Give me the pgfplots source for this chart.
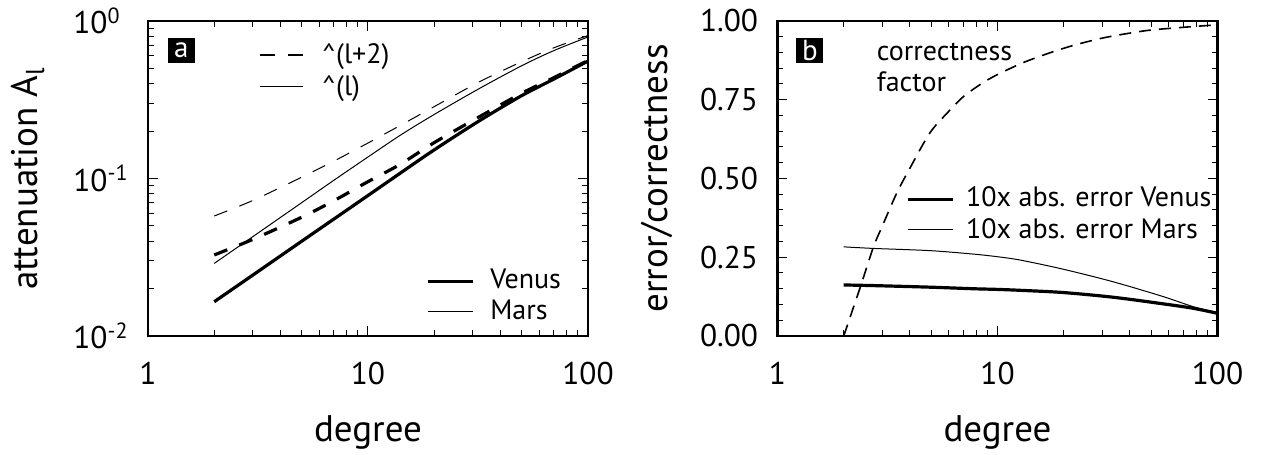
\documentclass[border=0pt]{standalone}
\usepackage{fontspec}
\setmainfont{PT Sans}
\usepackage{pgfplots}
\pgfplotsset{compat=1.18}

% Venus / Mars attenuation
\pgfplotstableread{
l     vl      vl2     ml      ml2
2     0.0165  0.0327  0.0289  0.0578
3     0.0244  0.0411  0.0428  0.0726
5     0.0400  0.0568  0.0703  0.102
7     0.0553  0.0723  0.0975  0.129
10    0.078   0.0955  0.137   0.168
14    0.108   0.123   0.188   0.217
20    0.152   0.169   0.255   0.286
32    0.232   0.246   0.372   0.410
50    0.336   0.348   0.520   0.552
70    0.428   0.437   0.649   0.676
100   0.557   0.562   0.792   0.809
}\atten

\pgfplotstableread{
l      c
2      0.0
2.2    0.085
2.41   0.167
2.73   0.283
3.0    0.35
3.48   0.453
4.0    0.533
4.93   0.645
6.0    0.713
7.0    0.76
8.5    0.802
10     0.83
13.1   0.868
17.3   0.899
22     0.922
29.2   0.944
38     0.959
49.4   0.971
70     0.980
100    0.988
}\correct

\pgfplotstableread{
l      ev     em
2      0.162  0.283
2.73   0.160  0.278
4.93   0.155  0.271
7.77   0.150  0.260
9.9    0.148  0.252
12.7   0.145  0.241
19.9   0.138  0.212
33.6   0.123  0.172
56.7   0.102  0.125
77.6   0.088  0.093
100    0.072  0.074
}\errs

\tikzset{
  thickl/.style={black, line width=1.6pt, smooth, tension=0.5},
  thinl/.style={black, line width=0.5pt, smooth, tension=0.5},
  boxlbl/.style={fill=black, text=white, minimum width=13.5pt, minimum height=12.5pt,
    inner sep=0pt, font=\fontsize{14.5}{14.5}\selectfont},
  txt/.style={anchor=base west, inner sep=0pt, font=\fontsize{14}{16}\selectfont},
}

\begin{document}
\begin{tikzpicture}
\useasboundingbox (0,0) rectangle (635.5pt,227.5pt);

\begin{axis}[
    scale only axis, width=220pt, height=157.5pt,
    at={(74pt,59.5pt)}, anchor=south west,
    xmode=log, xmin=1, xmax=100,
    ymode=log, ymin=0.01, ymax=1,
    xtick={1,10,100}, xticklabels={1,10,100},
    minor xtick={2,3,4,5,6,7,8,9,20,30,40,50,60,70,80,90},
    ytick={0.01,0.1,1},
    yticklabels={10\rlap{\textsuperscript{-2}},10\rlap{\textsuperscript{-1}},10\rlap{\textsuperscript{0}}},
    minor ytick={0.02,0.03,0.04,0.05,0.06,0.07,0.08,0.09,0.2,0.3,0.4,0.5,0.6,0.7,0.8,0.9},
    axis line style={line width=1.3pt},
    every tick/.append style={line width=0.5pt, black},
    major tick length=5pt, minor tick length=2.8pt,
    tick label style={font=\fontsize{15.7}{18}\selectfont},
    xticklabel style={anchor=north, inner sep=0pt, yshift=-13pt},
    yticklabel style={anchor=east, inner sep=0pt, xshift=-20pt},
    label style={font=\fontsize{18.5}{22}\selectfont},
    xlabel={degree},
    xlabel style={at={(axis description cs:0.5,-0.336)}, anchor=base},
    ylabel={attenuation A\textsubscript{l}},
    ylabel style={at={(axis description cs:-0.25,0.5)}, anchor=base},
    clip=false,
  ]
  \addplot[thickl] table[x=l, y=vl] {\atten};
  \addplot[thickl, dash pattern=on 7pt off 6.5pt] table[x=l, y=vl2] {\atten};
  \addplot[thinl] table[x=l, y=ml] {\atten};
  \addplot[thinl, dash pattern=on 7pt off 6.5pt] table[x=l, y=ml2] {\atten};

  \node[boxlbl] at (rel axis cs:0.076,0.906) {a};
  % legends
  \draw[line width=0.7pt, dash pattern=on 7.5pt off 6.5pt] (rel axis cs:0.2545,0.892) -- (rel axis cs:0.352,0.892);
  \node[txt] at (rel axis cs:0.395,0.866) {\textasciicircum(l+2)};
  \draw[line width=0.7pt] (rel axis cs:0.2545,0.792) -- (rel axis cs:0.352,0.792);
  \node[txt] at (rel axis cs:0.395,0.765) {\textasciicircum(l)};
  \draw[black, line width=1.6pt] (rel axis cs:0.636,0.172) -- (rel axis cs:0.739,0.172);
  \node[txt] at (rel axis cs:0.777,0.151) {Venus};
  \draw[black, line width=0.5pt] (rel axis cs:0.636,0.077) -- (rel axis cs:0.739,0.077);
  \node[txt] at (rel axis cs:0.777,0.051) {Mars};
\end{axis}

\begin{axis}[
    scale only axis, width=220pt, height=157.5pt,
    at={(388.75pt,59.5pt)}, anchor=south west,
    xmode=log, xmin=1, xmax=100,
    ymin=0, ymax=1,
    xtick={1,10,100}, xticklabels={1,10,100},
    minor xtick={2,3,4,5,6,7,8,9,20,30,40,50,60,70,80,90},
    ytick={0,0.25,0.5,0.75,1},
    yticklabels={0.00,0.25,0.50,0.75,1.00},
    minor y tick num=4,
    axis line style={line width=1.3pt},
    every tick/.append style={line width=0.5pt, black},
    major tick length=5pt, minor tick length=2.8pt,
    tick label style={font=\fontsize{15.7}{18}\selectfont},
    xticklabel style={anchor=north, inner sep=0pt, yshift=-13pt},
    yticklabel style={anchor=east, inner sep=0pt, xshift=-9.5pt},
    label style={font=\fontsize{18.5}{22}\selectfont},
    xlabel={degree},
    xlabel style={at={(axis description cs:0.5,-0.336)}, anchor=base},
    ylabel={error/correctness},
    ylabel style={at={(axis description cs:-0.25,0.5)}, anchor=base},
    clip=false,
  ]
  \addplot[black, line width=0.8pt, smooth, tension=0.5, dash pattern=on 6pt off 4pt] table[x=l, y=c] {\correct};
  \addplot[thickl] table[x=l, y=ev] {\errs};
  \addplot[thinl] table[x=l, y=em] {\errs};

  \node[boxlbl] at (rel axis cs:0.0738,0.905) {b};
  \node[txt] at (rel axis cs:0.225,0.874) {correctness};
  \node[txt] at (rel axis cs:0.225,0.776) {factor};
  \draw[black, line width=1.6pt] (rel axis cs:0.296,0.434) -- (rel axis cs:0.398,0.434);
  \node[txt] at (rel axis cs:0.428,0.41) {10x abs. error Venus};
  \draw[black, line width=0.5pt] (rel axis cs:0.296,0.337) -- (rel axis cs:0.398,0.337);
  \node[txt] at (rel axis cs:0.428,0.31) {10x abs. error Mars};
\end{axis}
\end{tikzpicture}
\end{document}
